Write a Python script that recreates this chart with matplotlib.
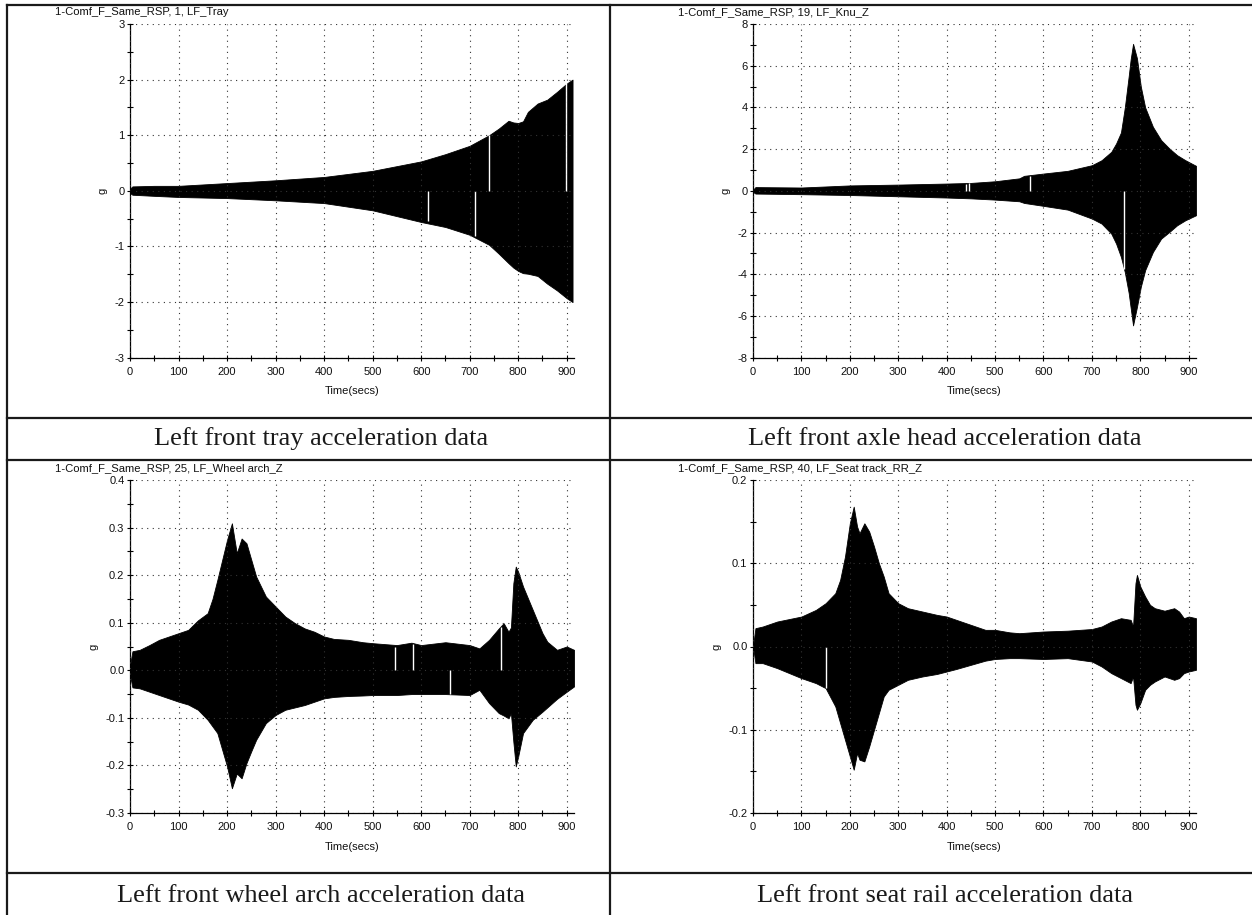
import matplotlib
matplotlib.use('Agg')
import matplotlib.pyplot as plt
from matplotlib.lines import Line2D
from matplotlib.ticker import MultipleLocator, FormatStrFormatter
import numpy as np

plt.rcParams['font.family'] = ['Liberation Sans', 'DejaVu Sans']
plt.rcParams['axes.unicode_minus'] = False

# ---- data: amplitude envelopes (g) ----
t_tray = [0, 5, 50, 100, 200, 300, 400, 500, 600, 650, 700, 740, 760, 780, 790, 800,
          810, 820, 840, 860, 880, 900, 912]
up_tray = [0.04, 0.08, 0.09, 0.09, 0.14, 0.19, 0.25, 0.36, 0.53, 0.66, 0.81, 1.0, 1.12,
           1.26, 1.23, 1.22, 1.25, 1.42, 1.57, 1.64, 1.78, 1.93, 2.0]
lo_tray = [-0.04, -0.07, -0.09, -0.11, -0.13, -0.17, -0.22, -0.35, -0.56, -0.65, -0.79,
           -0.97, -1.13, -1.30, -1.38, -1.44, -1.48, -1.49, -1.53, -1.67, -1.79, -1.93, -2.0]
gaps_tray_t = [615, 710, 740, 898]
gaps_tray_lo = [-0.55, -0.82, 0.0, 0.0]
gaps_tray_hi = [0.0, 0.0, 1.0, 1.95]

t_knu = [0, 5, 100, 200, 300, 400, 450, 500, 550, 560, 600, 650, 700, 720, 740, 750, 760,
         768, 776, 780, 785, 793, 801, 810, 826, 843, 860, 876, 893, 915]
up_knu = [0.05, 0.18, 0.16, 0.26, 0.30, 0.35, 0.38, 0.46, 0.60, 0.72, 0.83, 0.96, 1.23,
          1.47, 1.87, 2.27, 2.80, 4.0, 5.5, 6.3, 7.05, 6.36, 5.0, 4.0, 3.07, 2.43, 2.03,
          1.71, 1.47, 1.2]
lo_knu = [-0.05, -0.13, -0.16, -0.20, -0.26, -0.32, -0.36, -0.42, -0.50, -0.58, -0.72,
          -0.90, -1.33, -1.57, -2.05, -2.53, -3.17, -3.9, -4.9, -5.6, -6.45, -5.57, -4.6,
          -3.8, -2.93, -2.29, -1.97, -1.65, -1.41, -1.17]
gaps_knu_t = [440, 447, 572, 767]
gaps_knu_lo = [0.0, 0.0, 0.0, -3.75]
gaps_knu_hi = [0.35, 0.38, 0.72, 0.0]

t_arch = [0, 5, 20, 40, 60, 100, 120, 140, 160, 170, 180, 190, 200, 210, 220, 230, 240,
          250, 260, 280, 300, 320, 340, 360, 380, 400, 420, 450, 480, 500, 550, 580, 600,
          650, 700, 720, 740, 760, 770, 780, 785, 790, 795, 800, 810, 830, 850, 860, 880,
          900, 915]
up_arch = [0.01, 0.04, 0.043, 0.053, 0.064, 0.078, 0.085, 0.105, 0.12, 0.15, 0.19, 0.232,
           0.274, 0.309, 0.246, 0.277, 0.267, 0.232, 0.197, 0.155, 0.134, 0.113, 0.099,
           0.088, 0.081, 0.071, 0.066, 0.064, 0.059, 0.057, 0.053, 0.058, 0.053, 0.059,
           0.053, 0.046, 0.064, 0.088, 0.099, 0.081, 0.09, 0.183, 0.218, 0.207, 0.176,
           0.127, 0.078, 0.06, 0.043, 0.05, 0.043]
lo_arch = [-0.01, -0.036, -0.038, -0.045, -0.052, -0.066, -0.072, -0.083, -0.104, -0.118,
           -0.132, -0.167, -0.202, -0.248, -0.217, -0.227, -0.195, -0.17, -0.146, -0.111,
           -0.094, -0.083, -0.078, -0.073, -0.066, -0.059, -0.056, -0.054, -0.053, -0.052,
           -0.052, -0.05, -0.05, -0.05, -0.052, -0.041, -0.069, -0.09, -0.095, -0.101,
           -0.09, -0.15, -0.202, -0.181, -0.132, -0.104, -0.087, -0.078, -0.06, -0.045,
           -0.034]
gaps_arch_t = [547, 583, 660, 765]
gaps_arch_lo = [0.0, 0.0, -0.05, 0.0]
gaps_arch_hi = [0.05, 0.055, 0.0, 0.09]

t_seat = [0, 5, 20, 50, 100, 130, 150, 170, 180, 190, 200, 208, 215, 220, 230, 240, 250,
          260, 270, 280, 300, 320, 350, 380, 400, 420, 450, 480, 500, 530, 550, 600, 650,
          700, 720, 740, 760, 780, 785, 790, 793, 800, 810, 820, 830, 850, 870, 880, 890,
          900, 915]
up_seat = [0.0, 0.022, 0.024, 0.03, 0.036, 0.044, 0.052, 0.064, 0.08, 0.108, 0.148, 0.168,
           0.144, 0.136, 0.148, 0.138, 0.12, 0.1, 0.084, 0.064, 0.052, 0.046, 0.042, 0.038,
           0.036, 0.032, 0.026, 0.02, 0.02, 0.017, 0.016, 0.018, 0.019, 0.021, 0.024, 0.03,
           0.034, 0.032, 0.024, 0.076, 0.086, 0.072, 0.06, 0.05, 0.046, 0.043, 0.046, 0.042,
           0.034, 0.036, 0.034]
lo_seat = [0.0, -0.02, -0.02, -0.026, -0.038, -0.044, -0.05, -0.072, -0.092, -0.112,
           -0.132, -0.148, -0.128, -0.136, -0.138, -0.12, -0.1, -0.08, -0.06, -0.052,
           -0.046, -0.04, -0.036, -0.033, -0.03, -0.027, -0.022, -0.017, -0.015, -0.014,
           -0.014, -0.015, -0.014, -0.018, -0.024, -0.032, -0.038, -0.044, -0.036, -0.07,
           -0.076, -0.068, -0.052, -0.046, -0.042, -0.036, -0.04, -0.038, -0.032, -0.03,
           -0.028]
gaps_seat_t = [150]
gaps_seat_lo = [-0.05]
gaps_seat_hi = [0.0]

titles = ['1-Comf_F_Same_RSP, 1, LF_Tray', '1-Comf_F_Same_RSP, 19, LF_Knu_Z',
          '1-Comf_F_Same_RSP, 25, LF_Wheel arch_Z', '1-Comf_F_Same_RSP, 40, LF_Seat track_RR_Z']
captions = ['Left front tray acceleration data', 'Left front axle head acceleration data',
            'Left front wheel arch acceleration data', 'Left front seat rail acceleration data']

W, H = 1252, 915
fig = plt.figure(figsize=(W / 100, H / 100), dpi=100)


def rect(l, t, r, b):
    return [l / W, 1 - b / H, (r - l) / W, (b - t) / H]


panels = [
    (rect(130, 24, 574, 357.7), t_tray, up_tray, lo_tray, gaps_tray_t, gaps_tray_lo, gaps_tray_hi,
     (-3, 3), 1, 0.5, '%d'),
    (rect(753, 24, 1196, 357.7), t_knu, up_knu, lo_knu, gaps_knu_t, gaps_knu_lo, gaps_knu_hi,
     (-8, 8), 2, 1, '%d'),
    (rect(130, 480, 574, 813), t_arch, up_arch, lo_arch, gaps_arch_t, gaps_arch_lo, gaps_arch_hi,
     (-0.3, 0.4), 0.1, 0.05, '%.1f'),
    (rect(753, 480, 1196, 813), t_seat, up_seat, lo_seat, gaps_seat_t, gaps_seat_lo, gaps_seat_hi,
     (-0.2, 0.2), 0.1, 0.05, '%.1f'),
]

for i, (pos, t, up, lo, gt, glo, ghi, ylim, maj, mnr, fmt) in enumerate(panels):
    ax = fig.add_axes(pos)
    ax.fill_between(t, lo, up, color='black', lw=0.6, edgecolor='black')
    ax.vlines(gt, glo, ghi, color='white', lw=1.0)
    ax.set_xlim(0, 915)
    ax.set_ylim(*ylim)
    ax.xaxis.set_major_locator(MultipleLocator(100))
    ax.xaxis.set_minor_locator(MultipleLocator(50))
    ax.yaxis.set_major_locator(MultipleLocator(maj))
    ax.yaxis.set_minor_locator(MultipleLocator(mnr))
    ax.yaxis.set_major_formatter(FormatStrFormatter(fmt))
    ax.grid(True, which='major', color='#333333', lw=0.8, linestyle=(0, (1, 4)))
    ax.set_axisbelow(False)
    for s in ['top', 'right']:
        ax.spines[s].set_visible(False)
    for s in ['left', 'bottom']:
        ax.spines[s].set_linewidth(0.9)
    ax.tick_params(which='both', direction='inout', length=4, width=0.8,
                   labelsize=8, colors='black', labelcolor='#111111')
    ax.tick_params(axis='x', which='major', pad=4.5)
    ax.tick_params(axis='y', which='major', pad=2)
    ax.set_xlabel('Time(secs)', fontsize=8, labelpad=7, color='#111111')
    ax.set_ylabel('g', fontsize=8, labelpad=5, color='#111111')
    # panel title at top-left, above the axes
    fig.text(pos[0] - 75 / W, pos[1] + pos[3] + 12 / H, titles[i], fontsize=8.1,
             va='center', ha='left', color='#111111')

# table frame around the panels
lc = '#1a1a1a'
for y in [5, 417.7, 460, 873]:
    fig.add_artist(Line2D([7 / W, 1], [1 - y / H] * 2, color=lc, lw=1.6))
for x in [7, 610]:
    fig.add_artist(Line2D([x / W] * 2, [0, 1 - 5 / H], color=lc, lw=1.6))

cap_pos = [(321, 439), (945, 439), (321, 896.5), (945, 896.5)]
for (cx, cy), txt in zip(cap_pos, captions):
    fig.text(cx / W, 1 - cy / H, txt, fontsize=19, family='Liberation Serif',
             ha='center', va='center', color='#1a1a1a')

fig.savefig('out.png', dpi=100)
